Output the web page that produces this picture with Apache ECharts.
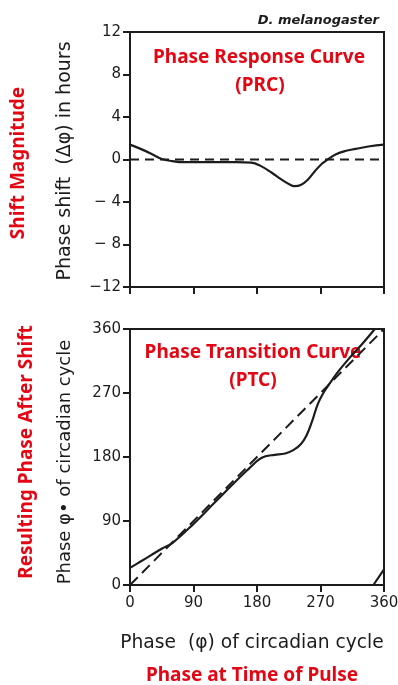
<!DOCTYPE html>
<html>
<head>
<meta charset="utf-8">
<script src="https://cdn.jsdelivr.net/npm/echarts@6/dist/echarts.min.js"></script>
<style>
html,body{margin:0;padding:0;background:#fff;}
#c{width:398px;height:685px;}
</style>
</head>
<body>
<div id="c"></div>
<script>
// ---- Data ----
// Phase Response Curve: [phase (deg), shift (hours)]
const prcData = [
  [0,1.4],[15,1.0],[30,0.55],[45,0.05],[60,-0.15],[75,-0.25],[90,-0.25],
  [120,-0.25],[150,-0.25],[172,-0.3],[185,-0.6],[200,-1.2],[215,-1.9],
  [225,-2.3],[233,-2.5],[242,-2.4],[252,-1.9],[262,-1.1],[272,-0.4],
  [280,0],[292,0.5],[305,0.8],[320,1.0],[340,1.25],[360,1.4]
];
const prcZero = [[0,0],[360,0]];
// Phase Transition Curve: [phase (deg), new phase (deg)]
const ptcMain = [
  [0,24],[15,33],[30,42],[45,51],[60,59],[90,86],[120,116],[150,146],
  [170,165],[182,176],[192,181],[205,183],[220,185],[232,190],[242,198],
  [250,210],[258,230],[266,254],[274,270],[282,282],[295,300],[310,318],
  [330,340],[347,360]
];
const ptcWrap = [[345,0],[360,22]];
const ptcDiagonal = [[0,0],[360,360]];
// Tick labels
const prcYTicks = {'12':'12','8':'8','4':'4','0':'0','-4':'− 4','-8':'− 8','-12':'−12'};
const ptcXTicks = ['0','90','180','270','360'];
const ptcYTicks = ['0','90','180','270','360'];

const ink = '#1c1c1c';
const red = '#e30613';
const tickFont = {fontFamily:'DejaVu Sans', fontSize:15, color:ink};
const redFont = 'bold 19px "Noto Sans"';

const chart = echarts.init(document.getElementById('c'), null, {renderer:'canvas'});

function frameGrid(top, height){
  return {left:130, right:14, top:top, height:height, show:true, outerBoundsMode:'none',
          containLabel:false, borderColor:ink, borderWidth:2, backgroundColor:'transparent'};
}
const axisLineStyle = {show:true, onZero:false, lineStyle:{color:ink, width:2}};
const tickStyle = {show:true, inside:false, length:7, lineStyle:{color:ink, width:2}};

const option = {
  backgroundColor:'#fff',
  animation:false,
  grid:[frameGrid(32,255), frameGrid(329,256)],
  xAxis:[
    {gridIndex:0, type:'value', min:0, max:360, interval:90,
     axisLine:axisLineStyle, axisTick:tickStyle, axisLabel:{show:false}, splitLine:{show:false}},
    {gridIndex:1, type:'value', min:0, max:360, interval:90,
     axisLine:axisLineStyle, axisTick:tickStyle, splitLine:{show:false},
     axisLabel:Object.assign({margin:11, formatter:(v)=>ptcXTicks[Math.round(v/90)]}, tickFont)}
  ],
  yAxis:[
    {gridIndex:0, type:'value', min:-12, max:12, interval:4,
     axisLine:axisLineStyle, axisTick:tickStyle, splitLine:{show:false},
     axisLabel:Object.assign({margin:9, formatter:(v)=>prcYTicks[String(v)]}, tickFont)},
    {gridIndex:1, type:'value', min:0, max:360, interval:90,
     axisLine:axisLineStyle, axisTick:tickStyle, splitLine:{show:false},
     axisLabel:Object.assign({margin:9, formatter:(v)=>ptcYTicks[Math.round(v/90)]}, tickFont)}
  ],
  series:[
    {type:'line', xAxisIndex:0, yAxisIndex:0, data:prcZero, symbol:'none',
     lineStyle:{color:ink, width:2, type:[9,6]}},
    {type:'line', xAxisIndex:0, yAxisIndex:0, data:prcData, symbol:'none', smooth:0.4,
     lineStyle:{color:ink, width:2.2}},
    {type:'line', xAxisIndex:1, yAxisIndex:1, data:ptcDiagonal, symbol:'none',
     lineStyle:{color:ink, width:2, type:[11,6]}},
    {type:'line', xAxisIndex:1, yAxisIndex:1, data:ptcMain, symbol:'none', smooth:0.4,
     lineStyle:{color:ink, width:2.2}},
    {type:'line', xAxisIndex:1, yAxisIndex:1, data:ptcWrap, symbol:'none',
     lineStyle:{color:ink, width:2.2}}
  ],
  graphic:[
    {type:'text', x:379, y:21, style:{text:'D. melanogaster', align:'right', verticalAlign:'middle',
      font:'italic bold 13px "DejaVu Sans"', fill:ink}},
    {type:'text', x:259, y:58, style:{text:'Phase Response Curve', align:'center', verticalAlign:'middle',
      font:redFont, fill:red}},
    {type:'text', x:260, y:86, style:{text:'(PRC)', align:'center', verticalAlign:'middle',
      font:redFont, fill:red}},
    {type:'text', x:19, y:163, rotation:Math.PI/2, style:{text:'Shift Magnitude', align:'center', verticalAlign:'middle',
      font:redFont, fill:red}},
    {type:'text', x:65, y:161, rotation:Math.PI/2, style:{text:'Phase shift  (Δφ) in hours', align:'center', verticalAlign:'middle',
      font:'19px "DejaVu Sans"', fill:ink}},
    {type:'text', x:253, y:353, style:{text:'Phase Transition Curve', align:'center', verticalAlign:'middle',
      font:redFont, fill:red}},
    {type:'text', x:253, y:381, style:{text:'(PTC)', align:'center', verticalAlign:'middle',
      font:redFont, fill:red}},
    {type:'text', x:27, y:452, rotation:Math.PI/2, style:{text:'Resulting Phase After Shift', align:'center', verticalAlign:'middle',
      font:redFont, fill:red}},
    {type:'text', x:65, y:462, rotation:Math.PI/2, style:{text:'Phase φ• of circadian cycle', align:'center', verticalAlign:'middle',
      font:'18px "DejaVu Sans"', fill:ink}},
    {type:'text', x:252, y:643, style:{text:'Phase  (φ) of circadian cycle', align:'center', verticalAlign:'middle',
      font:'18.7px "DejaVu Sans"', fill:ink}},
    {type:'text', x:252, y:676, style:{text:'Phase at Time of Pulse', align:'center', verticalAlign:'middle',
      font:redFont, fill:red}}
  ]
};
chart.setOption(option);
</script>
</body>
</html>
